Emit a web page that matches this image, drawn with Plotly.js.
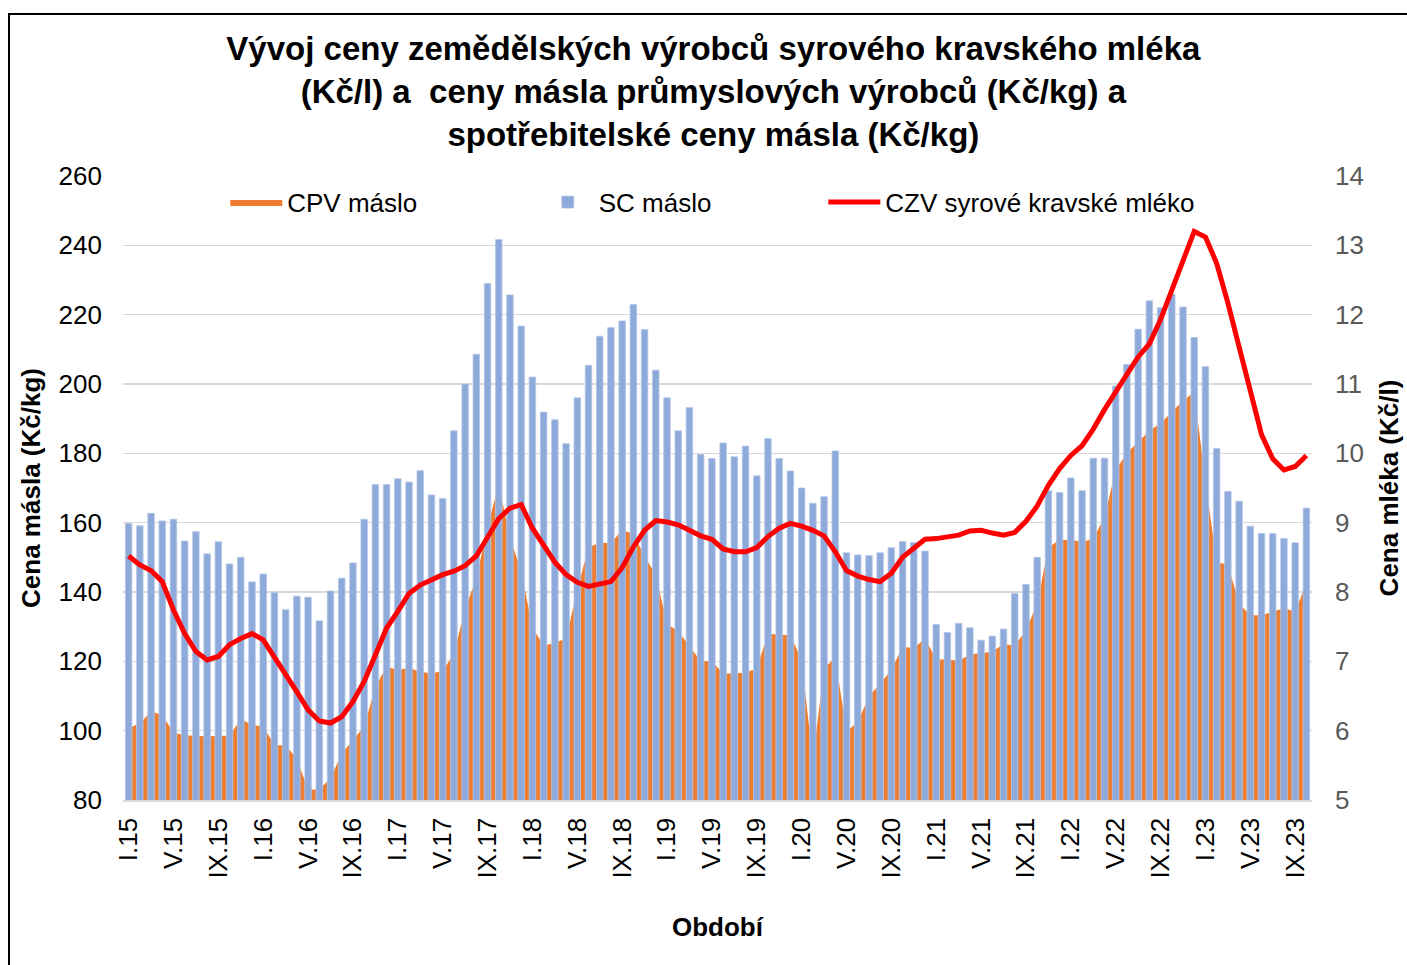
<!DOCTYPE html>
<html>
<head>
<meta charset="utf-8">
<script src="https://cdn.plot.ly/plotly-3.0.1.min.js"></script>
<style>
html,body{margin:0;padding:0;background:#fff;overflow:hidden;}
#chart{width:1407px;height:965px;}
#frame{position:absolute;left:8px;top:13px;width:1440px;height:1000px;border:2px solid #000;box-sizing:border-box;pointer-events:none;}
</style>
</head>
<body>
<div id="chart"></div>
<div id="frame"></div>
<script>
// Month / year labels (categories I.15 ... X.23)
const monthNames = ['I','II','III','IV','V','VI','VII','VIII','IX','X','XI','XII'];
const yearNames = ['15','16','17','18','19','20','21','22','23'];
const monthsInLastYear = 10;

// CPV máslo (Kč/kg) - area
const cpvMaslo = [
 100.8,102.1,105.5,104.5,99.4,98.7,98.5,98.3,98.5,98.5,103.4,101.6,
 101.2,95.9,95.7,92.0,82.9,83.1,86.3,93.4,97.3,101.2,112.7,118.5,
 117.5,118.1,117.0,116.5,117.3,122.2,135.2,143.8,159.0,170.9,155.7,146.0,
 129.8,124.4,125.4,126.5,140.6,153.0,154.1,154.1,157.9,156.8,150.3,144.9,
 130.8,128.7,124.4,120.0,120.0,116.5,116.5,116.8,117.9,128.0,127.6,127.6,
 120.4,91.5,118.0,121.1,99.7,102.5,109.8,113.7,117.5,124.2,123.8,126.6,
 120.5,120.5,120.2,122.0,122.5,122.8,125.0,124.5,129.0,136.6,152.9,155.0,
 155.0,154.5,155.3,161.6,175.1,180.2,183.3,186.5,188.7,192.0,195.2,197.6,
 172.0,148.5,148.0,136.6,133.3,133.3,134.4,135.3,134.4,142.5
];

// SC máslo (Kč/kg) - bars
const scMaslo = [
 159.8,159.1,162.7,160.5,161.0,154.7,157.4,151.0,154.5,148.1,150.0,142.9,
 145.2,139.8,134.9,138.8,138.5,131.7,140.3,144.0,148.4,161.0,171.0,171.0,
 172.7,171.7,175.0,168.0,167.0,186.5,200.0,208.6,229.0,241.7,225.7,216.7,
 202.0,191.9,189.7,182.8,196.0,205.4,213.8,216.3,218.2,222.9,215.7,204.0,
 196.0,186.5,193.2,179.7,178.5,183.0,179.0,182.1,173.5,184.3,178.5,174.9,
 170.0,165.6,167.5,180.7,151.3,150.7,150.5,151.3,152.8,154.6,154.3,151.8,
 130.6,128.3,131.0,129.7,126.1,127.3,129.3,139.6,142.2,150.0,169.2,168.7,
 172.9,169.2,178.6,178.6,199.4,205.6,215.8,224.0,222.0,225.9,222.2,213.4,
 205.0,181.4,169.0,166.2,159.0,156.9,156.9,155.4,154.2,164.2
];

// CZV syrové kravské mléko (Kč/l) - line, right axis
const czvMleko = [
 8.52,8.39,8.31,8.15,7.74,7.40,7.14,7.02,7.07,7.24,7.33,7.40,
 7.31,7.07,6.83,6.56,6.30,6.14,6.11,6.20,6.42,6.71,7.09,7.48,
 7.72,7.98,8.10,8.18,8.25,8.30,8.38,8.52,8.79,9.06,9.21,9.26,
 8.92,8.68,8.43,8.25,8.14,8.08,8.11,8.15,8.35,8.65,8.89,9.03,
 9.01,8.97,8.89,8.81,8.76,8.62,8.58,8.58,8.64,8.80,8.92,8.99,
 8.95,8.89,8.81,8.58,8.31,8.23,8.18,8.15,8.27,8.50,8.63,8.76,
 8.77,8.80,8.82,8.88,8.89,8.85,8.82,8.86,9.02,9.24,9.54,9.78,
 9.97,10.11,10.35,10.63,10.90,11.14,11.39,11.58,11.93,12.36,12.80,13.20,
 13.12,12.74,12.17,11.52,10.90,10.27,9.92,9.76,9.81,9.97
];

const titleText = '<b>Vývoj ceny zemědělských výrobců syrového kravského mléka</b><br><b>(Kč/l) a \u00a0ceny másla průmyslových výrobců (Kč/kg) a</b><br><b>spotřebitelské ceny másla (Kč/kg)</b>';

// Build category labels
const categories = [];
yearNames.forEach((y, yi) => {
  const n = (yi === yearNames.length - 1) ? monthsInLastYear : monthNames.length;
  for (let m = 0; m < n; m++) categories.push(monthNames[m] + '.' + y);
});
const tickLabels = categories.filter((c, i) => i % 4 === 0);

const FONT = 'Liberation Sans, Arial, sans-serif';

const traces = [
  {
    type: 'scatter', mode: 'lines', name: 'CPV máslo',
    x: categories, y: cpvMaslo, xaxis: 'x', yaxis: 'y',
    fill: 'tozeroy', fillcolor: '#ED7D31',
    line: {width: 0, color: '#ED7D31'},
    legend: 'legend'
  },
  {
    type: 'bar', name: 'SC máslo',
    x: categories, y: scMaslo, xaxis: 'x', yaxis: 'y2',
    marker: {color: '#8EAADB', line: {color: '#B4C7E7', width: 0.8}},
    legend: 'legend2'
  },
  {
    type: 'scatter', mode: 'lines', name: 'CZV syrové kravské mléko',
    x: categories, y: czvMleko, xaxis: 'x', yaxis: 'y3',
    line: {color: '#FF0000', width: 5},
    legend: 'legend3'
  }
];

const legendBase = {
  orientation: 'h', yanchor: 'middle', xanchor: 'left', y: 0.958,
  bgcolor: 'rgba(0,0,0,0)', font: {family: FONT, size: 26, color: '#000'},
  itemwidth: 52
};

const layout = {
  width: 1407, height: 965,
  margin: {l: 123, r: 95, t: 176, b: 165, autoexpand: false},
  paper_bgcolor: '#ffffff', plot_bgcolor: '#ffffff',
  font: {family: FONT, size: 26, color: '#000'},
  bargap: 0.42,
  title: {
    text: titleText, x: 0.507, xanchor: 'center', y: 0.938, yanchor: 'top',
    font: {family: FONT, size: 33, color: '#000'}
  },
  xaxis: {
    type: 'category', categoryorder: 'array', categoryarray: categories,
    range: [-0.5, categories.length - 0.5],
    tickmode: 'array', tickvals: tickLabels, ticktext: tickLabels,
    tickangle: -90, ticks: '', showgrid: false, zeroline: false,
    showline: true, linecolor: '#D9D9D9', linewidth: 1.5,
    tickfont: {family: FONT, size: 26, color: '#000'},
    ticklabelstandoff: 6,
    automargin: false,
    title: {text: '<b>Období</b>', standoff: 40, font: {family: FONT, size: 26, color: '#000'}}
  },
  yaxis: {
    range: [80, 260], tick0: 80, dtick: 20, ticks: '',
    showgrid: true, gridcolor: '#D9D9D9', gridwidth: 1.5, zeroline: false,
    tickfont: {family: FONT, size: 26, color: '#000'},
    ticklabelstandoff: 20, automargin: false,
    title: {text: '<b>Cena másla (Kč/kg)</b>', standoff: 10, font: {family: FONT, size: 26, color: '#000'}}
  },
  yaxis2: {
    overlaying: 'y', range: [80, 260], visible: false, showgrid: false, zeroline: false
  },
  yaxis3: {
    overlaying: 'y', side: 'right', range: [5, 14], tick0: 5, dtick: 1, ticks: '',
    showgrid: false, zeroline: false,
    tickfont: {family: FONT, size: 26, color: '#595959'},
    ticklabelstandoff: 22, automargin: false,
    title: {text: '<b>Cena mléka (Kč/l)</b>', standoff: 16, font: {family: FONT, size: 26, color: '#000'}}
  },
  legend: Object.assign({}, legendBase, {x: 0.086}),
  legend2: Object.assign({}, legendBase, {x: 0.348}),
  legend3: Object.assign({}, legendBase, {x: 0.589}),
  showlegend: true
};

Plotly.newPlot('chart', traces, layout, {displayModeBar: false, staticPlot: true});
</script>
</body>
</html>
